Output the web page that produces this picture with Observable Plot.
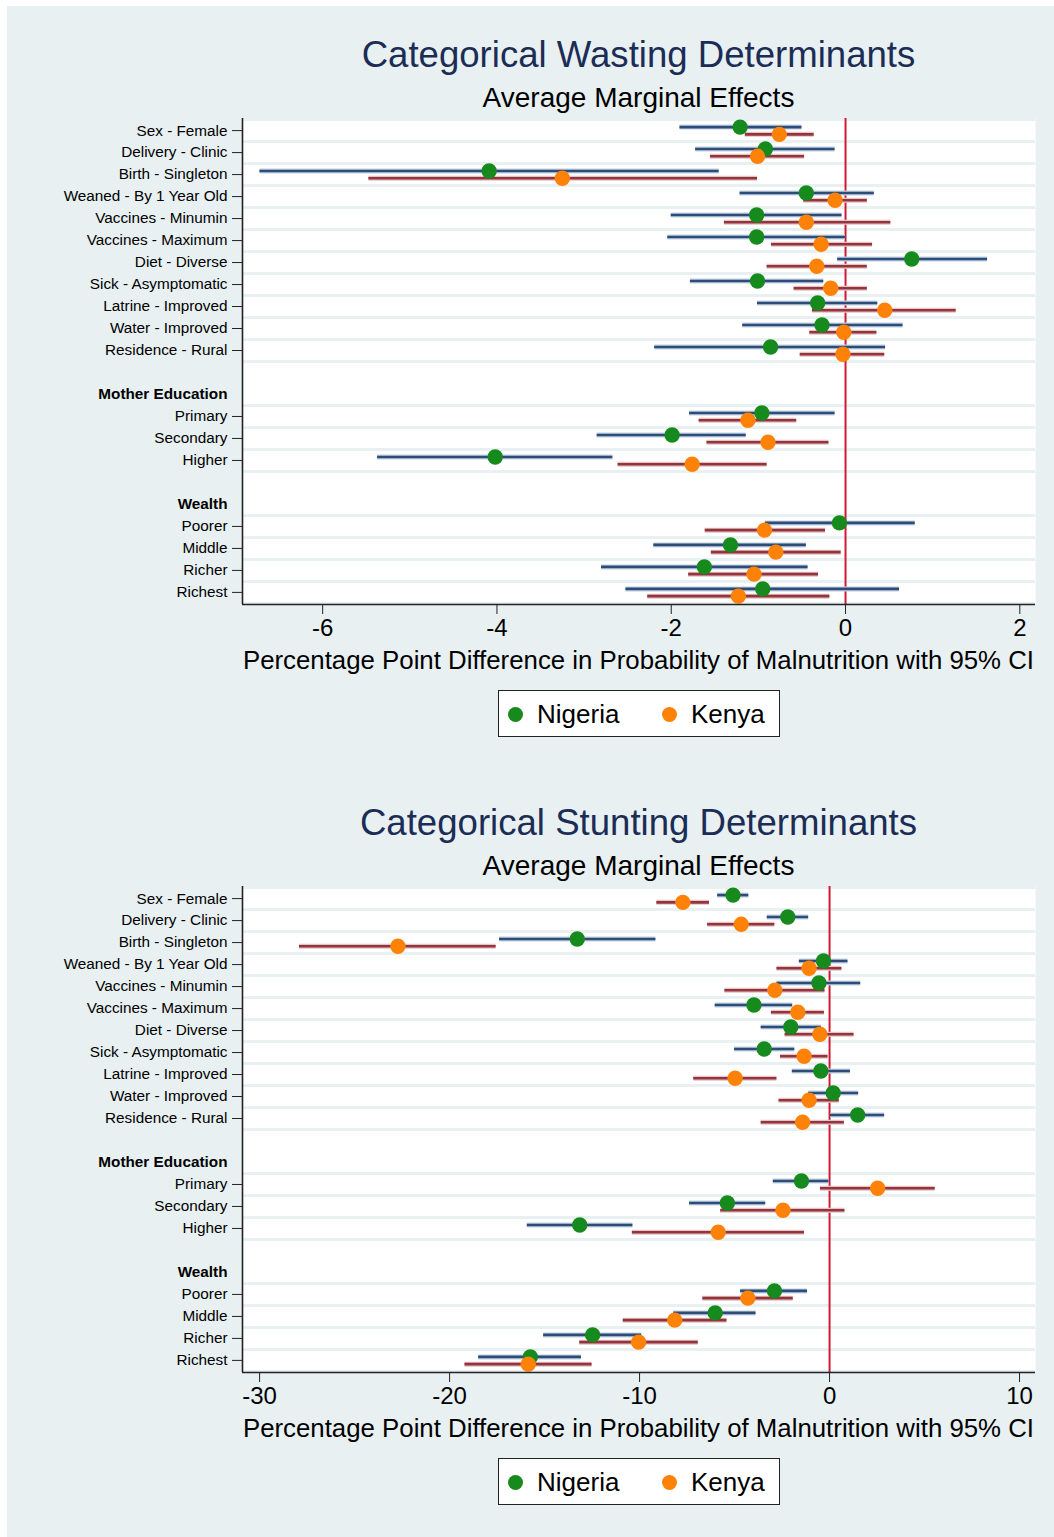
<!DOCTYPE html>
<html>
<head>
<meta charset="utf-8">
<script src="https://cdn.jsdelivr.net/npm/d3@7"></script>
<script src="https://cdn.jsdelivr.net/npm/@observablehq/plot@0.6"></script>
<style>
  html, body { margin: 0; padding: 0; background: #ffffff; }
  body { width: 1054px; height: 1537px; position: relative; overflow: hidden;
         font-family: "Liberation Sans", Arial, Helvetica, sans-serif; }
  #bg { position: absolute; left: 7px; top: 6px; width: 1047px; height: 1531px; background: #e8f0f2; }
  .title { position: absolute; left: 242px; width: 793px; text-align: center; color: #1c2d55;
           font-size: 36.6px; line-height: 40px; white-space: nowrap; }
  .subtitle { position: absolute; left: 242px; width: 793px; text-align: center; color: #000;
              font-size: 28px; line-height: 30px; white-space: nowrap; }
  .xtitle { position: absolute; left: 242px; width: 793px; text-align: center; color: #000;
            font-size: 25.8px; line-height: 28px; white-space: nowrap; }
  .legend { position: absolute; left: 498px; width: 280px; height: 45px; background: #fff;
            border: 1px solid #222; font-size: 26px; }
  .legend span.dot { position: absolute; top: 16px; width: 15px; height: 15px; border-radius: 50%; }
  .legend span.lab { position: absolute; top: 9px; line-height: 28px; }
  .chart { position: absolute; left: 0; }
</style>
</head>
<body>
<div id="bg"></div>
<script>
// ---- categories ----
const items = ["Sex - Female","Delivery - Clinic","Birth - Singleton","Weaned - By 1 Year Old",
  "Vaccines - Minumin","Vaccines - Maximum","Diet - Diverse","Sick - Asymptomatic",
  "Latrine - Improved","Water - Improved","Residence - Rural",
  "Primary","Secondary","Higher","Poorer","Middle","Richer","Richest"];
const rowLabels = ["Sex - Female","Delivery - Clinic","Birth - Singleton","Weaned - By 1 Year Old",
  "Vaccines - Minumin","Vaccines - Maximum","Diet - Diverse","Sick - Asymptomatic",
  "Latrine - Improved","Water - Improved","Residence - Rural","",
  "Mother Education","Primary","Secondary","Higher","",
  "Wealth","Poorer","Middle","Richer","Richest"];
const headerLabels = ["Mother Education","Wealth"];
const seriesNames = ["Nigeria","Kenya"];

// ---- Wasting (percentage points) ----
const wastNgEst = [-1.21,-0.92,-4.09,-0.45,-1.02,-1.02,0.76,-1.01,-0.32,-0.27,-0.86,-0.96,-1.99,-4.02,-0.07,-1.32,-1.62,-0.95];
const wastNgLo  = [-1.90,-1.72,-6.72,-1.21,-2.00,-2.04,-0.09,-1.78,-1.01,-1.18,-2.19,-1.79,-2.85,-5.37,-0.92,-2.20,-2.80,-2.52];
const wastNgHi  = [-0.50,-0.12,-1.45,0.33,-0.04,0.00,1.63,-0.25,0.37,0.66,0.46,-0.12,-1.14,-2.67,0.80,-0.45,-0.43,0.62];
const wastKeEst = [-0.76,-1.01,-3.25,-0.12,-0.45,-0.28,-0.33,-0.17,0.45,-0.02,-0.03,-1.12,-0.89,-1.76,-0.93,-0.80,-1.05,-1.23];
const wastKeLo  = [-1.15,-1.55,-5.47,-0.48,-1.39,-0.85,-0.90,-0.59,-0.38,-0.41,-0.52,-1.68,-1.59,-2.61,-1.61,-1.54,-1.80,-2.27];
const wastKeHi  = [-0.36,-0.47,-1.01,0.25,0.52,0.31,0.25,0.25,1.27,0.36,0.45,-0.56,-0.19,-0.90,-0.23,-0.05,-0.31,-0.18];
const wastTicks = [-6,-4,-2,0,2];

// ---- Stunting (percentage points) ----
const stNgEst = [-5.08,-2.20,-13.28,-0.32,-0.56,-3.98,-2.04,-3.44,-0.46,0.19,1.48,-1.48,-5.38,-13.15,-2.90,-6.02,-12.47,-15.75];
const stNgLo  = [-5.89,-3.28,-17.37,-1.59,-2.77,-6.02,-3.60,-5.00,-1.96,-1.10,0.05,-2.96,-7.37,-15.91,-4.68,-8.20,-15.05,-18.47];
const stNgHi  = [-4.25,-1.10,-9.14,0.97,1.64,-1.94,-0.43,-1.83,1.10,1.53,2.90,-0.03,-3.36,-10.35,-1.16,-3.87,-9.89,-13.06];
const stKeEst = [-7.72,-4.65,-22.72,-1.08,-2.88,-1.67,-0.51,-1.34,-4.97,-1.08,-1.42,2.53,-2.45,-5.86,-4.30,-8.15,-10.05,-15.86];
const stKeLo  = [-9.09,-6.42,-27.90,-2.77,-5.51,-3.06,-2.34,-2.58,-7.15,-2.66,-3.60,-0.48,-5.73,-10.38,-6.67,-10.86,-13.15,-19.19];
const stKeHi  = [-6.32,-2.88,-17.55,0.65,-0.24,-0.27,1.29,-0.08,-2.77,0.51,0.78,5.56,0.81,-1.32,-1.91,-5.40,-6.91,-12.50];
const stTicks = [-30,-20,-10,0,10];

const titles = ["Categorical Wasting Determinants","Categorical Stunting Determinants"];
const subtitle = "Average Marginal Effects";
const xTitle = "Percentage Point Difference in Probability of Malnutrition with 95% CI";

const colors = {Nigeria: "#168a1c", Kenya: "#ff8208"};
const ciColors = {Nigeria: "#2c4d7a", Kenya: "#94343c"};
const ciHalo = {Nigeria: "#c3d0e0", Kenya: "#e2c3c6"};
const bgColor = "#e8f0f2";
const font = '"Liberation Sans", Arial, Helvetica, sans-serif';

function buildData(ngE, ngL, ngH, keE, keL, keH) {
  const out = [];
  items.forEach((it, k) => {
    const row = rowLabels.indexOf(it);
    out.push({item: it, series: "Nigeria", y: row - 0.16, est: ngE[k], lo: ngL[k], hi: ngH[k]});
    out.push({item: it, series: "Kenya", y: row + 0.17, est: keE[k], lo: keL[k], hi: keH[k]});
  });
  return out;
}

function panel(offset, title, data, xDomain, ticks) {
  const add = (cls, top, text) => {
    const d = document.createElement("div");
    d.className = cls; d.style.top = (top + offset) + "px"; d.textContent = text;
    document.body.appendChild(d);
  };
  add("title", 35, title);
  add("subtitle", 83, subtitle);

  const dataRows = items.map(it => rowLabels.indexOf(it));
  const bounds = Array.from(new Set(dataRows.flatMap(r => [r - 0.5, r + 0.5])));
  const headers = headerLabels.map(h => ({label: h, y: rowLabels.indexOf(h)}));
  const yDomain = [-0.55, rowLabels.length - 0.45];

  const chart = Plot.plot({
    width: 1054, height: 565,
    marginLeft: 242, marginRight: 19, marginTop: 8, marginBottom: 71,
    style: {background: "transparent", fontFamily: font, color: "#000", overflow: "visible"},
    x: {domain: xDomain},
    y: {domain: yDomain, reverse: true, axis: null},
    marks: [
      Plot.frame({fill: "white", stroke: null}),
      Plot.ruleY(bounds, {stroke: bgColor, strokeWidth: 3}),
      Plot.ruleX([0], {stroke: "#d01a34", strokeWidth: 2}),
      Plot.ruleY(data, {y: "y", x1: "lo", x2: "hi", stroke: d => ciHalo[d.series], strokeWidth: 5}),
      Plot.ruleY(data, {y: "y", x1: "lo", x2: "hi", stroke: d => ciColors[d.series], strokeWidth: 2.6}),
      Plot.dot(data, {x: "est", y: "y", r: 7.7, fill: d => colors[d.series], stroke: null}),
      Plot.ruleX([xDomain[0]], {stroke: "#222", strokeWidth: 1.6}),
      Plot.ruleY([yDomain[1]], {stroke: "#222", strokeWidth: 1.6}),
      Plot.axisX({ticks: ticks, tickFormat: d => String(d), tickSize: 10, tickPadding: 4,
                  fontSize: 24, label: null, stroke: "#222"}),
      Plot.axisY({ticks: dataRows, tickFormat: i => rowLabels[i], tickSize: 10, tickPadding: 5,
                  fontSize: 15.3, label: null, stroke: "#222"}),
      Plot.text(headers, {y: "y", text: "label", frameAnchor: "left", textAnchor: "end",
                          dx: -15, fontSize: 15.3, fontWeight: "bold", fill: "#000"})
    ]
  });
  chart.classList.add("chart");
  chart.style.top = (110 + offset) + "px";
  document.body.appendChild(chart);

  add("xtitle", 646, xTitle);

  const lg = document.createElement("div");
  lg.className = "legend"; lg.style.top = (690 + offset) + "px";
  const xs = [{dot: 9, lab: 38}, {dot: 163, lab: 192}];
  seriesNames.forEach((s, i) => {
    const dot = document.createElement("span");
    dot.className = "dot"; dot.style.left = xs[i].dot + "px"; dot.style.background = colors[s];
    const lab = document.createElement("span");
    lab.className = "lab"; lab.style.left = xs[i].lab + "px"; lab.textContent = s;
    lg.appendChild(dot); lg.appendChild(lab);
  });
  document.body.appendChild(lg);
}

panel(0, titles[0], buildData(wastNgEst, wastNgLo, wastNgHi, wastKeEst, wastKeLo, wastKeHi), [-6.92, 2.18], wastTicks);
panel(768, titles[1], buildData(stNgEst, stNgLo, stNgHi, stKeEst, stKeLo, stKeHi), [-30.9, 10.84], stTicks);
</script>
</body>
</html>
